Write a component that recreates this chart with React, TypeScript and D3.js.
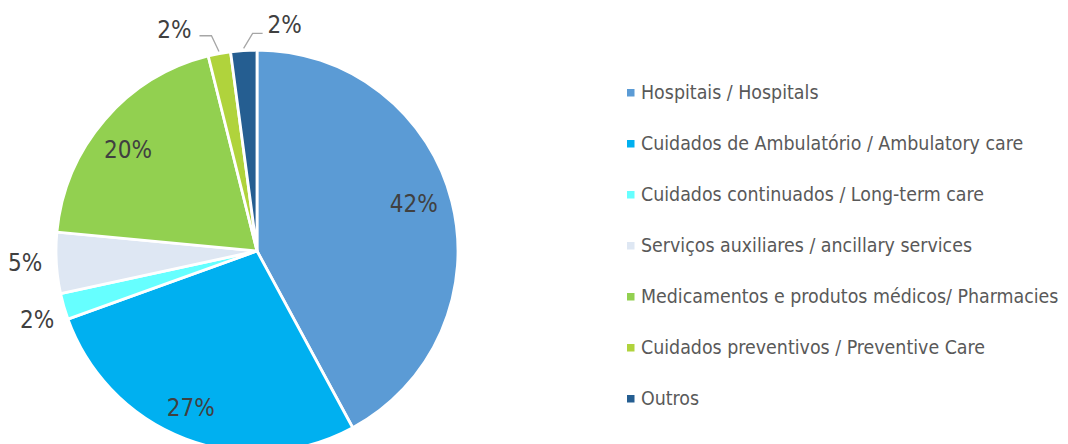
import React from "react";
import * as d3 from "d3";

// categories (pie order, clockwise from 12 o'clock) and shares in %
const categories = [
  "Hospitais / Hospitals",
  "Cuidados de Ambulatório / Ambulatory care",
  "Cuidados continuados / Long-term care",
  "Serviços auxiliares / ancillary services",
  "Medicamentos e produtos médicos/ Pharmacies",
  "Cuidados preventivos / Preventive Care",
  "Outros",
];
const shares = [42.1, 27.4, 2.1, 4.9, 19.6, 1.8, 2.1];
const colors = ["#5B9BD5", "#00B0F0", "#66FFFF", "#DEE7F3", "#92D050", "#B0D33C", "#255E91"];

// how each data label is placed, plus a small nudge (like Excel's best fit)
const labelMode = ["inside", "inside", "outside", "outside", "inside", "leader-left", "leader-right"];
const labelNudge: [number, number][] = [[1, -8], [-9, 7], [4, 11], [0, -1], [-7, 4], [-2, 0], [0, 0]];

const W = 1068;
const H = 444;
const cx = 257;
const cy = 251;
const R = 201;
const FONT = "'DejaVu Sans Condensed', 'DejaVu Sans', sans-serif";

export default function App() {
  const pie = d3.pie<number>().sort(null).value(d => d);
  const arcs = pie(shares);
  const arc = d3.arc<d3.PieArcDatum<number>>().innerRadius(0).outerRadius(R);

  const polar = (a: number, r: number): [number, number] => [
    cx + Math.sin(a) * r,
    cy - Math.cos(a) * r,
  ];

  const legendY = d3.scalePoint<number>()
    .domain(d3.range(categories.length))
    .range([92.5, 398.5]);

  const labels = arcs.map((a, i) => {
    const mid = (a.startAngle + a.endAngle) / 2;
    const txt = `${Math.round(shares[i])}%`;
    const mode = labelMode[i];
    const [nx, ny] = labelNudge[i];
    if (mode === "inside") {
      const [x, y] = polar(mid, R * 0.8);
      return { i, txt, x: x + nx, y: y + ny, anchor: "middle", line: null as null | [number, number][] };
    }
    if (mode === "outside") {
      const [x, y] = polar(mid, R + 10);
      return { i, txt, x: x - 4 + nx, y: y + ny, anchor: "end", line: null };
    }
    const p0 = polar(mid, R + 2);
    if (mode === "leader-left") {
      const p1 = polar(mid - 0.02, R + 19);
      const p2: [number, number] = [p1[0] - 12, p1[1]];
      return { i, txt, x: p2[0] - 6 + nx, y: p2[1] - 6 + ny, anchor: "end", line: [p0, p1, p2] };
    }
    const p1: [number, number] = [p0[0] + 9, p0[1] - 15];
    const p2: [number, number] = [p1[0] + 10, p1[1]];
    return { i, txt, x: p2[0] + 5 + nx, y: p2[1] - 8 + ny, anchor: "start", line: [p0, p1, p2] };
  });

  return (
    <svg
      width={W}
      height={H}
      style={{ position: "absolute", left: 0, top: 0, background: "#fff" }}
      fontFamily={FONT}
    >
      <g transform={`translate(${cx},${cy})`}>
        {arcs.map((a, i) => (
          <path key={i} d={arc(a) || ""} fill={colors[i]} stroke="#fff" strokeWidth={2.8} />
        ))}
      </g>
      {labels.map(l => (
        <g key={l.i}>
          {l.line && (
            <polyline
              points={l.line.map(p => p.join(",")).join(" ")}
              fill="none"
              stroke="#A6A6A6"
              strokeWidth={1.3}
            />
          )}
          <text
            x={l.x}
            y={l.y}
            textAnchor={l.anchor}
            dominantBaseline="central"
            fontSize={24}
            fill="#404040"
          >
            {l.txt}
          </text>
        </g>
      ))}
      <g>
        {categories.map((c, i) => (
          <g key={c} transform={`translate(0,${legendY(i)})`}>
            <rect x={627} y={-3.5} width={7.5} height={7.5} fill={colors[i]} />
            <text x={641} y={0} dominantBaseline="central" fontSize={19.4} fill="#595959">
              {c}
            </text>
          </g>
        ))}
      </g>
    </svg>
  );
}
